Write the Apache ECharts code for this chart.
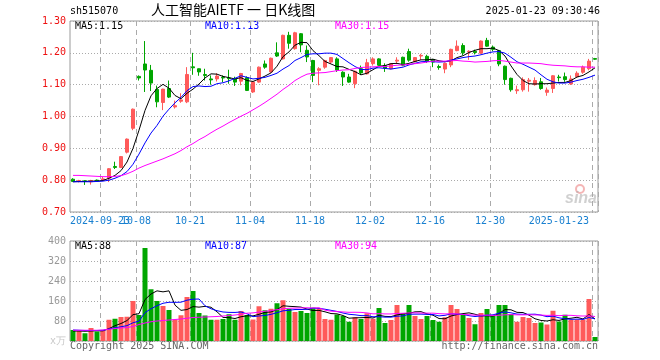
<!DOCTYPE html>
<html><head><meta charset="utf-8">
<script src="https://cdn.jsdelivr.net/npm/echarts@6/dist/echarts.min.js"></script>
<style>html,body{margin:0;padding:0;background:#fff}#c{width:660px;height:360px}</style>
</head><body><div id="c"></div>
<script>
const dates = [
'2024-09-12','2024-09-13','2024-09-18','2024-09-19','2024-09-20','2024-09-23','2024-09-24','2024-09-25','2024-09-26','2024-09-27','2024-09-30',
'2024-10-08','2024-10-09','2024-10-10','2024-10-11','2024-10-14','2024-10-15','2024-10-16','2024-10-17','2024-10-18','2024-10-21','2024-10-22','2024-10-23','2024-10-24','2024-10-25','2024-10-28','2024-10-29','2024-10-30','2024-10-31',
'2024-11-01','2024-11-04','2024-11-05','2024-11-06','2024-11-07','2024-11-08','2024-11-11','2024-11-12','2024-11-13','2024-11-14','2024-11-15','2024-11-18','2024-11-19','2024-11-20','2024-11-21','2024-11-22','2024-11-25','2024-11-26','2024-11-27','2024-11-28','2024-11-29',
'2024-12-02','2024-12-03','2024-12-04','2024-12-05','2024-12-06','2024-12-09','2024-12-10','2024-12-11','2024-12-12','2024-12-13','2024-12-16','2024-12-17','2024-12-18','2024-12-19','2024-12-20','2024-12-23','2024-12-24','2024-12-25','2024-12-26','2024-12-27','2024-12-30','2024-12-31',
'2025-01-02','2025-01-03','2025-01-06','2025-01-07','2025-01-08','2025-01-09','2025-01-10','2025-01-13','2025-01-14','2025-01-15','2025-01-16','2025-01-17','2025-01-20','2025-01-21','2025-01-22','2025-01-23'];

const opens = [
0.803,0.796,0.798,0.795,0.800,0.799,0.806,0.843,0.840,0.888,
0.963,1.126,1.165,1.145,1.085,1.044,1.088,1.030,1.048,1.046,
1.156,1.150,1.132,1.118,1.118,1.123,1.121,1.118,1.111,1.122,
1.077,1.108,1.165,1.140,1.200,1.181,1.255,1.213,1.260,1.208,
1.176,1.145,1.155,1.171,1.181,1.139,1.124,1.103,1.150,1.134,
1.166,1.181,1.160,1.150,1.174,1.186,1.204,1.172,1.190,1.189,
1.179,1.157,1.149,1.162,1.207,1.223,1.203,1.205,1.199,1.239,
1.218,1.207,1.158,1.120,1.081,1.084,1.111,1.100,1.109,1.076,
1.088,1.124,1.125,1.102,1.125,1.139,1.150,1.182];
const closes = [
0.796,0.799,0.796,0.799,0.797,0.804,0.836,0.840,0.874,0.929,
1.023,1.121,1.146,1.105,1.046,1.086,1.061,1.034,1.052,1.132,
1.153,1.140,1.129,1.115,1.127,1.121,1.119,1.108,1.135,1.082,
1.108,1.155,1.155,1.183,1.190,1.255,1.230,1.263,1.225,1.187,
1.129,1.150,1.176,1.185,1.146,1.124,1.108,1.142,1.137,1.169,
1.181,1.161,1.152,1.166,1.177,1.161,1.177,1.185,1.192,1.174,
1.171,1.154,1.167,1.211,1.221,1.200,1.205,1.201,1.237,1.221,
1.211,1.165,1.116,1.084,1.084,1.116,1.114,1.113,1.088,1.083,
1.128,1.122,1.116,1.118,1.136,1.155,1.174,1.180];
const lows = [
0.794,0.793,0.785,0.786,0.795,0.797,0.794,0.835,0.838,0.884,
0.957,1.113,1.077,1.080,1.029,1.020,1.058,1.025,1.043,1.042,
1.131,1.128,1.113,1.100,1.110,1.108,1.103,1.096,1.098,1.080,
1.074,1.106,1.150,1.138,1.187,1.179,1.213,1.210,1.202,1.171,
1.108,1.098,1.150,1.166,1.140,1.096,1.106,1.089,1.130,1.132,
1.160,1.158,1.140,1.148,1.165,1.158,1.172,1.170,1.178,1.168,
1.155,1.147,1.136,1.155,1.205,1.193,1.178,1.195,1.197,1.219,
1.205,1.158,1.100,1.078,1.071,1.078,1.078,1.097,1.084,1.065,
1.074,1.110,1.109,1.099,1.122,1.134,1.145,1.178];
const highs = [
0.806,0.801,0.800,0.801,0.802,0.810,0.838,0.858,0.876,0.931,
1.025,1.129,1.237,1.162,1.097,1.087,1.113,1.050,1.073,1.155,
1.200,1.151,1.150,1.129,1.136,1.129,1.147,1.125,1.137,1.126,
1.110,1.157,1.176,1.185,1.233,1.257,1.266,1.266,1.262,1.223,
1.178,1.155,1.178,1.187,1.186,1.142,1.134,1.144,1.160,1.181,
1.186,1.183,1.167,1.168,1.186,1.188,1.213,1.187,1.197,1.194,
1.181,1.163,1.169,1.213,1.239,1.230,1.208,1.210,1.239,1.247,
1.223,1.209,1.160,1.122,1.097,1.123,1.121,1.123,1.121,1.091,
1.130,1.131,1.138,1.129,1.142,1.160,1.181,1.184];

const ma5 = [
0.795,0.796,0.796,0.797,0.797,0.799,0.806,0.815,0.830,0.857,
0.900,0.957,1.019,1.065,1.088,1.101,1.089,1.066,1.056,1.073,
1.086,1.102,1.121,1.134,1.133,1.126,1.122,1.118,1.122,1.113,
1.110,1.118,1.127,1.137,1.158,1.188,1.203,1.224,1.233,1.232,
1.207,1.191,1.173,1.165,1.157,1.156,1.148,1.141,1.131,1.136,
1.147,1.158,1.160,1.166,1.167,1.163,1.167,1.173,1.178,1.178,
1.180,1.175,1.172,1.175,1.185,1.191,1.201,1.208,1.213,1.213,
1.215,1.207,1.190,1.159,1.132,1.113,1.103,1.102,1.103,1.103,
1.105,1.107,1.107,1.113,1.124,1.129,1.140,1.153];
const ma10 = [
0.795,0.795,0.795,0.795,0.796,0.797,0.800,0.806,0.814,0.827,
0.850,0.882,0.917,0.948,0.972,1.001,1.023,1.043,1.060,1.081,
1.094,1.096,1.094,1.095,1.103,1.106,1.112,1.120,1.128,1.123,
1.118,1.120,1.123,1.129,1.136,1.149,1.160,1.176,1.185,1.195,
1.197,1.197,1.199,1.199,1.195,1.182,1.169,1.157,1.148,1.147,
1.152,1.153,1.151,1.149,1.152,1.155,1.162,1.167,1.172,1.173,
1.172,1.171,1.172,1.177,1.181,1.185,1.188,1.190,1.194,1.199,
1.203,1.204,1.199,1.186,1.172,1.164,1.155,1.146,1.131,1.117,
1.109,1.105,1.105,1.108,1.113,1.117,1.123,1.130];
const ma30 = [
0.815,0.815,0.814,0.813,0.812,0.811,0.811,0.812,0.814,0.820,
0.828,0.838,0.846,0.853,0.860,0.867,0.875,0.883,0.893,0.905,
0.915,0.927,0.937,0.949,0.960,0.970,0.981,0.991,1.001,1.010,
1.021,1.032,1.044,1.057,1.070,1.085,1.098,1.113,1.124,1.133,
1.136,1.137,1.138,1.141,1.144,1.146,1.147,1.151,1.154,1.155,
1.156,1.157,1.157,1.159,1.161,1.162,1.164,1.166,1.168,1.171,
1.174,1.174,1.174,1.175,1.176,1.174,1.173,1.171,1.172,1.173,
1.175,1.176,1.174,1.171,1.168,1.168,1.168,1.167,1.166,1.163,
1.161,1.160,1.159,1.157,1.156,1.156,1.155,1.155];

const volumes = [
44,40,31,52,38,42,85,89,96,97,
160,104,372,207,160,140,124,86,103,176,
200,112,102,85,85,88,107,85,120,104,
86,139,123,129,151,163,128,116,120,112,
133,131,88,85,106,100,77,95,88,111,
89,132,72,84,144,111,144,100,88,100,
84,77,95,144,128,104,92,67,112,128,
100,144,144,108,77,96,92,72,74,66,
121,78,105,85,86,86,168,16];
const vma5 = [
40,40,39,40,41,40.6,49.6,61.2,70,81.8,
105.4,109.2,165.8,188,200.6,196.6,200.6,143.4,122.6,125.8,
137.8,135.4,138.6,135,116.8,94.4,93.4,90,97,100.8,
100.4,106.8,114.4,116.2,125.6,141,138.8,137.4,135.6,127.8,
121.8,122.4,116.8,109.8,108.6,102,91.2,92.6,93.2,94.2,
92,103,98.4,97.6,104.2,108.6,111,116.6,117.4,108.6,
103.2,89.8,88.8,100,105.6,109.6,112.6,107,100.6,100.6,
99.8,110.2,125.6,124.8,114.6,113.8,103.4,89,82.2,80,
85,82.2,88.8,91,95,88,106,88.2];
const vma10 = [
44,43,42,42,42,43,48,53,57,61.4,
73,79.4,113.5,129,141.2,151,154.9,154.6,155.3,163.2,
167.2,168,141,128.8,121.3,116.1,114.4,114.3,116,108.8,
97.4,100.1,102.2,106.6,113.2,120.7,122.8,125.9,125.9,126.7,
131.4,130.6,127.1,122.7,118.2,111.9,106.8,104.7,101.5,101.4,
97,97.1,95.5,95.4,99.2,100.3,107,107.5,107.5,106.4,
105.9,100.4,102.7,108.7,107.1,106.4,101.2,97.9,100.3,103.1,
104.7,111.4,116.3,112.7,107.6,106.8,106.8,107.3,103.5,97.3,
99.4,92.8,88.9,86.6,87.5,86.5,94.1,88.5];
const vma30 = [
43,43,43,43,43,44,47,50,52,54,
58,66,72,77,80,82,84,86,88,91,
94,95,96,97,98,100,102,104,107,111.1,
112.5,115.8,118.9,121.5,125.2,129.3,130.7,131.6,132.4,132.9,
132,132.9,123.4,119.4,117.6,116.2,114.7,115,114.5,112.3,
108.6,109.3,108.3,108.2,110.2,111,112.2,112.7,111.6,111.5,
111.4,109.4,108.4,108.9,108.2,106.2,105,103.4,103.1,103.6,
102.5,103,104.8,105.6,104.6,104.5,105,104.2,103.8,102.3,
103.3,101.5,102.6,102.7,100.7,99.9,100.7,97.9];

const tickDates = ['2024-09-23','2024-10-08','2024-10-21','2024-11-04','2024-11-18','2024-12-02','2024-12-16','2024-12-30','2025-01-23'];
const tickLabels = ['2024-09-23','10-08','10-21','11-04','11-18','12-02','12-16','12-30','2025-01-23'];
const priceTicks = [0.70, 0.80, 0.90, 1.00, 1.10, 1.20, 1.30];
const volTicks = [0, 80, 160, 240, 320, 400];

const MONO = 'DejaVu Sans Mono, monospace';
const RED = '#FF5A5A', GREEN = '#00A600';
const tickIdx = new Set(tickDates.map(d => dates.indexOf(d)));
const firstTick = dates.indexOf(tickDates[0]);
const labelMap = {}; tickDates.forEach((d, k) => labelMap[d] = tickLabels[k]);
const lastIdx = dates.length - 1;
const xData = dates.map((d, i) => i === lastIdx ? {value: d, textStyle: {align: 'right'}} : d);

const chart = echarts.init(document.getElementById('c'), null, {renderer: 'canvas'});
const splitX = {show: true, interval: (i) => tickIdx.has(i), lineStyle: {color: '#aaa', width: 1, type: [5, 4]}};
const splitY = {show: true, lineStyle: {color: '#aaa', width: 1, type: [1, 2]}};
const xLabelBase = {formatter: (v) => labelMap[v] || '', color: '#1a80d0', hideOverlap: false,
                    fontFamily: MONO, fontSize: 10, margin: 4, padding: [0, 6, 0, 0]};

chart.setOption({
  animation: false,
  backgroundColor: '#fff',
  grid: [
    {left: 70, top: 21, width: 528, height: 191, show: true, borderColor: '#9a9a9a', borderWidth: 1, backgroundColor: 'transparent'},
    {left: 70, top: 241, width: 528, height: 100, show: true, borderColor: '#9a9a9a', borderWidth: 1, backgroundColor: 'transparent'}
  ],
  xAxis: [
    {type: 'category', gridIndex: 0, data: xData, boundaryGap: true, position: 'bottom',
     axisLine: {show: false}, axisTick: {show: false},
     axisLabel: Object.assign({}, xLabelBase, {interval: (i) => tickIdx.has(i) && i !== firstTick}),
     splitLine: splitX},
    {type: 'category', gridIndex: 1, data: dates, boundaryGap: true,
     axisLine: {show: false}, axisTick: {show: false}, axisLabel: {show: false},
     splitLine: splitX},
    {type: 'category', gridIndex: 0, data: dates, boundaryGap: true, position: 'bottom', offset: 0,
     axisLine: {show: false}, axisTick: {show: false}, splitLine: {show: false},
     axisLabel: Object.assign({}, xLabelBase, {interval: (i) => i === firstTick})}
  ],
  yAxis: [
    {type: 'value', gridIndex: 0, min: priceTicks[0], max: priceTicks[priceTicks.length - 1], interval: 0.1,
     axisLine: {show: false}, axisTick: {show: false},
     axisLabel: {formatter: (v) => v.toFixed(2), color: '#ee1111', fontFamily: MONO, fontSize: 10, margin: 4,
                 showMinLabel: true, showMaxLabel: true, hideOverlap: false},
     splitLine: splitY},
    {type: 'value', gridIndex: 1, min: volTicks[0], max: volTicks[volTicks.length - 1], interval: 80,
     axisLine: {show: false}, axisTick: {show: false},
     axisLabel: {formatter: (v) => v === 0 ? 'x万' : String(v), color: (v) => (Number(v) === 0 ? '#c8c8c8' : '#999'),
                 fontFamily: MONO, fontSize: 10, margin: 4, showMinLabel: true, showMaxLabel: true, hideOverlap: false},
     splitLine: splitY}
  ],
  series: [
    {type: 'candlestick', xAxisIndex: 0, yAxisIndex: 0, barWidth: 4,
     data: dates.map((d, i) => [opens[i], closes[i], lows[i], highs[i]]),
     itemStyle: {color: RED, color0: GREEN, borderColor: RED, borderColor0: GREEN, borderWidth: 1}},
    {type: 'line', name: 'MA5', xAxisIndex: 0, yAxisIndex: 0, data: ma5, symbol: 'none', lineStyle: {color: '#000', width: 1}},
    {type: 'line', name: 'MA10', xAxisIndex: 0, yAxisIndex: 0, data: ma10, symbol: 'none', lineStyle: {color: '#0000ff', width: 1}},
    {type: 'line', name: 'MA30', xAxisIndex: 0, yAxisIndex: 0, data: ma30, symbol: 'none', lineStyle: {color: '#ff00ff', width: 1}},
    {type: 'bar', xAxisIndex: 1, yAxisIndex: 1, barWidth: 5,
     data: volumes.map((v, i) => ({value: v, itemStyle: {color: closes[i] >= opens[i] ? RED : GREEN}}))},
    {type: 'line', xAxisIndex: 1, yAxisIndex: 1, data: vma5, symbol: 'none', lineStyle: {color: '#000', width: 1}},
    {type: 'line', xAxisIndex: 1, yAxisIndex: 1, data: vma10, symbol: 'none', lineStyle: {color: '#0000ff', width: 1}},
    {type: 'line', xAxisIndex: 1, yAxisIndex: 1, data: vma30, symbol: 'none', lineStyle: {color: '#ff00ff', width: 1}}
  ],
  graphic: [
    {type: 'text', left: 70, top: 6, style: {text: 'sh515070', font: '10px ' + MONO, fill: '#000'}},
    {type: 'text', left: 151, top: 3, style: {text: '人工智能AIETF 一 日K线图', font: '14px "Noto Sans CJK SC"', fill: '#000'}},
    {type: 'text', right: 60, top: 6, style: {text: '2025-01-23 09:30:46', font: '10px ' + MONO, fill: '#000'}},
    {type: 'text', left: 75, top: 21, style: {text: 'MA5:1.15', font: '10px ' + MONO, fill: '#000'}},
    {type: 'text', left: 205, top: 21, style: {text: 'MA10:1.13', font: '10px ' + MONO, fill: '#0000ff'}},
    {type: 'text', left: 335, top: 21, style: {text: 'MA30:1.15', font: '10px ' + MONO, fill: '#ff00ff'}},
    {type: 'text', left: 75, top: 241, style: {text: 'MA5:88', font: '10px ' + MONO, fill: '#000'}},
    {type: 'text', left: 205, top: 241, style: {text: 'MA10:87', font: '10px ' + MONO, fill: '#0000ff'}},
    {type: 'text', left: 335, top: 241, style: {text: 'MA30:94', font: '10px ' + MONO, fill: '#ff00ff'}},
    {type: 'text', left: 70, top: 341, style: {text: 'Copyright 2025 SINA.COM', font: '10px ' + MONO, fill: '#666'}},
    {type: 'text', right: 62, top: 341, style: {text: 'http://finance.sina.com.cn', font: '10px ' + MONO, fill: '#666'}},
    {type: 'circle', shape: {cx: 580, cy: 189, r: 4}, style: {fill: 'none', stroke: 'rgba(235,120,120,0.55)', lineWidth: 2}},
    {type: 'text', left: 565, top: 191, style: {text: 'sina', font: 'italic bold 16px Arial', fill: 'rgba(170,170,170,0.55)'}}
  ]
});
</script></body></html>
